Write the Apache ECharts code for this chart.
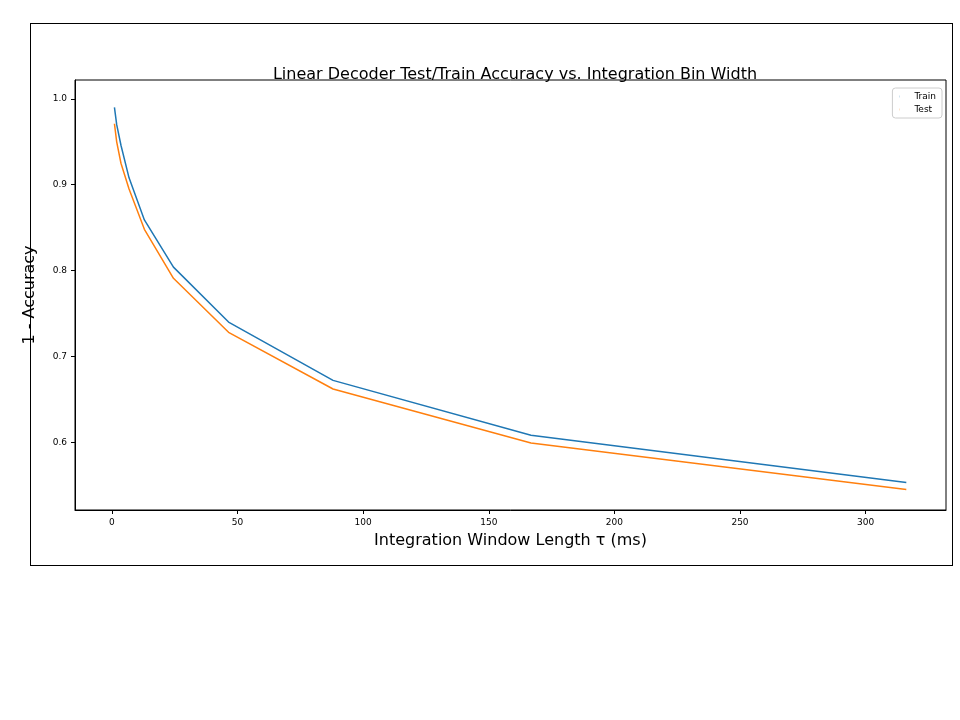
<!DOCTYPE html>
<html><head><meta charset="utf-8">
<script src="https://cdn.jsdelivr.net/npm/echarts@6/dist/echarts.min.js"></script>
<style>body{margin:0;background:#fff}#c{width:960px;height:720px}
#box{position:absolute;left:30px;top:23px;width:921px;height:541px;border:1px solid #000;pointer-events:none}</style>
</head><body><div id="c"></div><div id="box"></div>
<script>
const tau = [1, 1.896, 3.594, 6.813, 12.92, 24.49, 46.42, 88.01, 166.8, 316.2];
const train = [0.99, 0.97, 0.946, 0.908, 0.859, 0.804, 0.740, 0.672, 0.608, 0.553];
const test = [0.971, 0.95, 0.925, 0.895, 0.848, 0.791, 0.728, 0.662, 0.599, 0.545];
const xTicks = [0, 50, 100, 150, 200, 250, 300];
const yTicks = [0.6, 0.7, 0.8, 0.9, 1.0];
const chart = echarts.init(document.getElementById('c'));
chart.setOption({
  animation: false,
  title: {text: 'Linear Decoder Test/Train Accuracy vs. Integration Bin Width', left: 510, top: 62, textAlign: 'center',
    textStyle: {fontFamily: 'DejaVu Sans', fontSize: 16, fontWeight: 'normal', color: '#000'}},
  legend: {top: 88, right: 18, orient: 'vertical', itemWidth: 20, itemHeight: 2, itemGap: 4, icon: 'path://M0,9H20V11H0ZM9,0H11V20H9Z',
    borderColor: '#ccc', borderWidth: 1, borderRadius: 3, padding: [4, 6],
    textStyle: {fontFamily: 'DejaVu Sans', fontSize: 9, color: '#000'}},
  grid: {left: 75, right: 14, top: 80, bottom: 210, show: true, borderColor: '#000', borderWidth: 1},
  xAxis: {type: 'value', min: -14.7, max: 332, name: 'Integration Window Length τ (ms)', nameLocation: 'middle', nameGap: 23,
    nameTextStyle: {fontFamily: 'DejaVu Sans', fontSize: 16, color: '#000'},
    axisLine: {onZero: false, lineStyle: {color: '#000'}}, splitLine: {show: false},
    axisTick: {customValues: xTicks, length: 4, lineStyle: {color: '#000'}},
    axisLabel: {customValues: xTicks, fontSize: 9, color: '#000', fontFamily: 'DejaVu Sans'}},
  yAxis: {type: 'value', min: 0.521, max: 1.022, name: '1 - Accuracy', nameLocation: 'middle', nameGap: 37,
    nameTextStyle: {fontFamily: 'DejaVu Sans', fontSize: 16, color: '#000'},
    axisLine: {show: true, onZero: false, lineStyle: {color: '#000'}}, splitLine: {show: false},
    axisTick: {show: true, customValues: yTicks, length: 4, lineStyle: {color: '#000'}},
    axisLabel: {customValues: yTicks, fontSize: 9, color: '#000', fontFamily: 'DejaVu Sans', formatter: v => v.toFixed(1)}},
  series: [
    {name: 'Train', type: 'line', data: tau.map((x, i) => [x, train[i]]), showSymbol: false, color: '#1f77b4', lineStyle: {width: 1.5}},
    {name: 'Test', type: 'line', data: tau.map((x, i) => [x, test[i]]), showSymbol: false, color: '#ff7f0e', lineStyle: {width: 1.5}}
  ]
});
</script></body></html>
